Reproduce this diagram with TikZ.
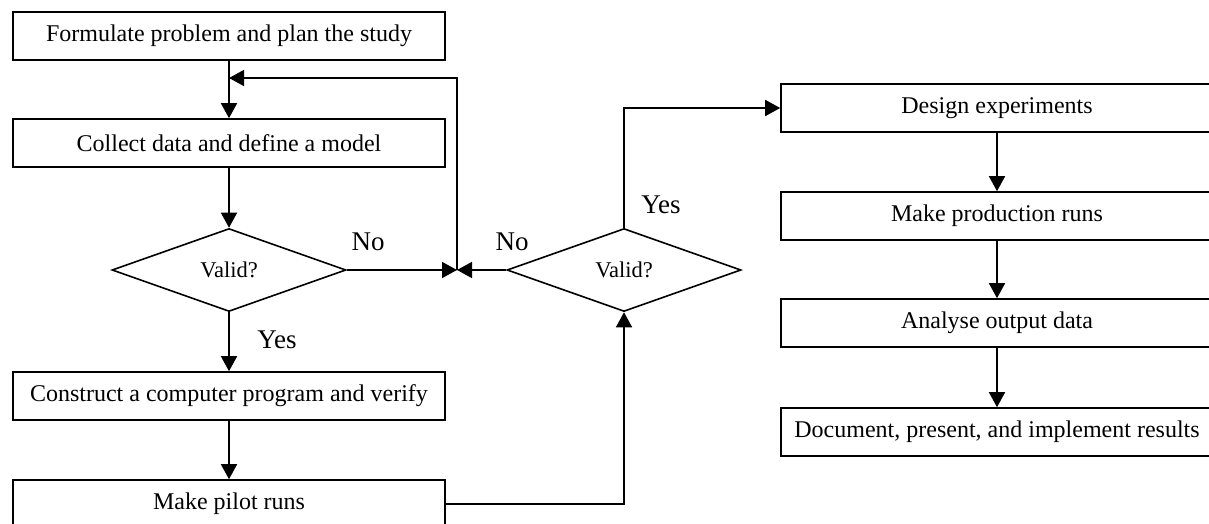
\documentclass[tikz,border=0pt]{standalone}
\usepackage{fontspec}
\setmainfont{Liberation Serif}
\usetikzlibrary{arrows.meta,shapes.geometric}
\begin{document}
\begin{tikzpicture}[x=1pt,y=-1pt,line width=1.6pt,
  stepbox/.style={draw,rectangle,minimum width=432pt,minimum height=48pt,
    inner sep=0pt,font=\fontsize{24}{28}\selectfont},
  decision/.style={draw,diamond,minimum width=234pt,minimum height=83pt,
    aspect=2.8,inner sep=0pt,font=\fontsize{22.5}{26}\selectfont},
  lbl/.style={font=\fontsize{27}{31}\selectfont,inner sep=0pt},
  arr/.style={-{Triangle[length=15pt,width=16pt]}}]
\useasboundingbox (0,0) rectangle (1209,524);

% left column
\node[stepbox] (b1) at (229,36)  {Formulate problem and plan the study};
\node[stepbox] (b2) at (229,143) {Collect data and define a model};
\node[decision] (d1) at (229,270) {Valid?};
\node[stepbox] (b3) at (229,396) {Construct a computer program and verify};
\node[stepbox] (b4) at (229,504) {Make pilot runs};

% second check
\node[decision] (d2) at (624,270) {Valid?};

% right column
\node[stepbox] (r1) at (997,108) {Design experiments};
\node[stepbox] (r2) at (997,216) {Make production runs};
\node[stepbox] (r3) at (997,323) {Analyse output data};
\node[stepbox] (r4) at (997,432) {Document, present, and implement results};

% junction of the two "No" branches and the loop back
\coordinate (j) at (457,270);
\coordinate (m) at (229,78);

\draw[arr] (b1) -- (b2);
\draw[arr] (b2) -- (d1);
\draw[arr] (d1.east) -- (j);
\draw[arr] (d2.west) -- (j);
\draw[arr] (j) |- (m);
\draw[arr] (d1) -- (b3);
\draw[arr] (b3) -- (b4);
\draw[arr] (b4.east) -| (d2.south);
\draw[arr] (d2.north) |- (r1.west);
\draw[arr] (r1) -- (r2);
\draw[arr] (r2) -- (r3);
\draw[arr] (r3) -- (r4);

% branch labels
\node[lbl] (no1) at (368,242) {No};
\node[lbl] (no2) at (512,242) {No};
\node[lbl] (yes1) at (277,340) {Yes};
\node[lbl] (yes2) at (661,205) {Yes};
\end{tikzpicture}
\end{document}
